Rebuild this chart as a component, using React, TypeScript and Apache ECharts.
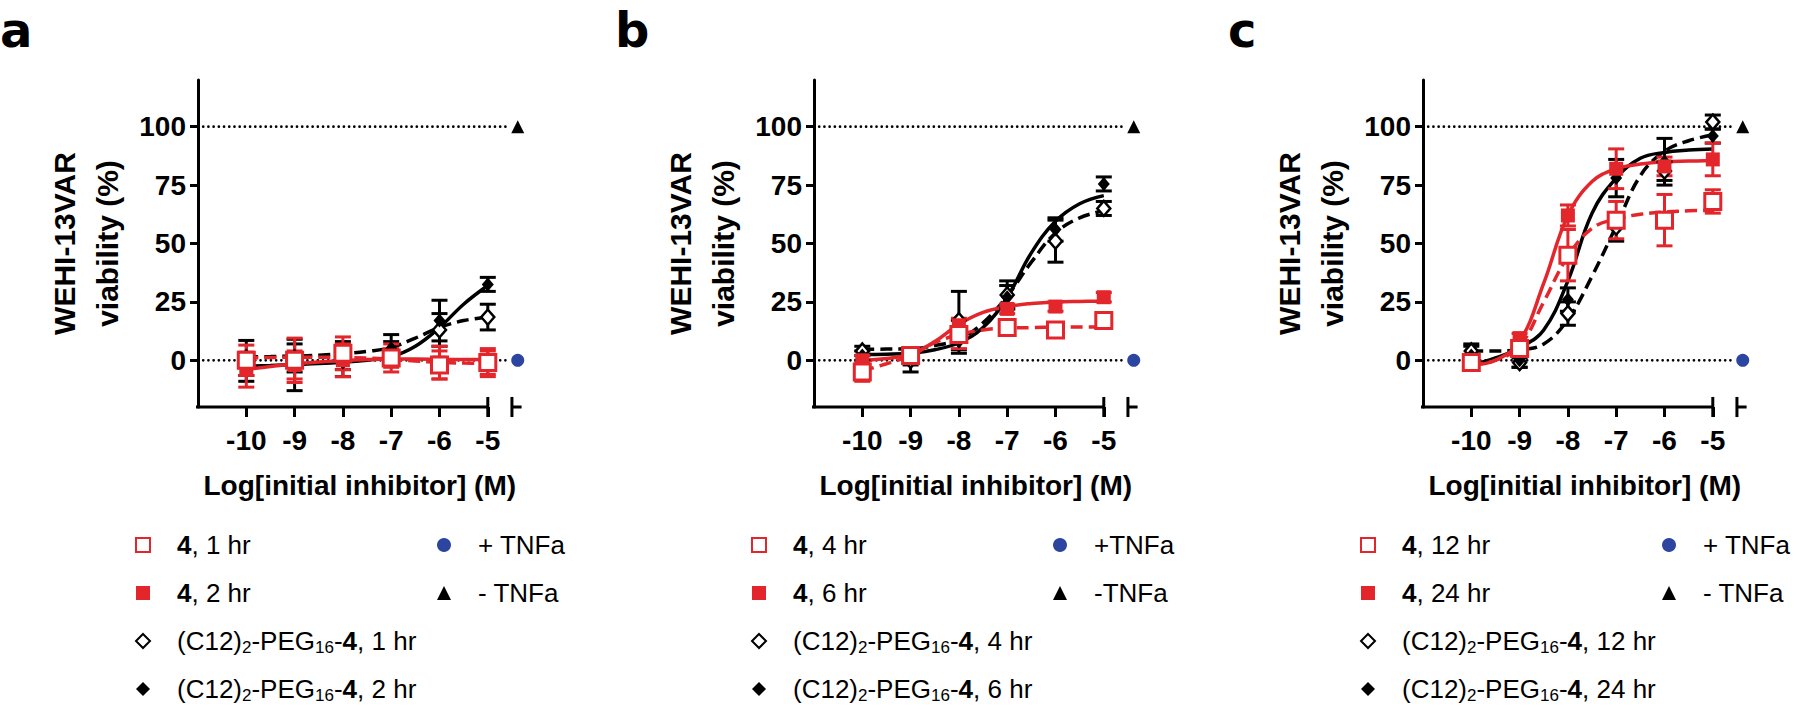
import React, { useEffect, useRef } from "react";
import * as echarts from "echarts";

// ---------- data ----------
const X_POINTS = [-10, -9, -8, -7, -6, -5];
const CURVE_X = [-10, -9.5, -9, -8.5, -8, -7.5, -7, -6.5, -6, -5.5, -5];
const X_TICKS = [-10, -9, -8, -7, -6, -5];
const Y_TICKS = [0, 25, 50, 75, 100];
const PANEL_LETTERS = ["a", "b", "c"];
const X_TITLE = "Log[initial inhibitor] (M)";
const Y_TITLE = "WEHI-13VAR\nviability (%)";

// series names (legend labels): [open square, filled square, open diamond, filled diamond]
const A_NAMES = ["4, 1 hr", "4, 2 hr", "(C12)2-PEG16-4, 1 hr", "(C12)2-PEG16-4, 2 hr"];
const B_NAMES = ["4, 4 hr", "4, 6 hr", "(C12)2-PEG16-4, 4 hr", "(C12)2-PEG16-4, 6 hr"];
const C_NAMES = ["4, 12 hr", "4, 24 hr", "(C12)2-PEG16-4, 12 hr", "(C12)2-PEG16-4, 24 hr"];
const A_CONTROLS = ["+ TNFa", "- TNFa"];
const B_CONTROLS = ["+TNFa", "-TNFa"];
const C_CONTROLS = ["+ TNFa", "- TNFa"];
const CONTROL_VALUES = [0, 100];
const REFERENCE_LINES = [0, 100];

// panel a
const A_OPEN_SQ = [0, 0, 3, 1, -2, -1];
const A_OPEN_SQ_ERR = [6.5, 9.5, 7, 6, 6, 6];
const A_FILL_SQ = [-4, -2, 0, 1, -1, -1];
const A_FILL_SQ_ERR = [7.5, 6, 7, 4, 7, 5];
const A_OPEN_DIA = [1, 1, 2, 4, 13, 18.5];
const A_OPEN_DIA_ERR = [7.5, 6, 6, 4, 7, 5.5];
const A_FILL_DIA = [-3, -2, -1, 5, 17, 32.5];
const A_FILL_DIA_ERR = [6, 11, 6, 6, 8.7, 3];
const A_CURVE_OPEN_SQ = [1, 1.2, 1.3, 1.3, 1.2, 1, 0.5, -0.3, -0.9, -1.2, -1.3];
const A_CURVE_FILL_SQ = [-3.9, -2.7, -1.5, -0.7, -0.1, 0.3, 0.5, 0.5, 0.4, 0.3, 0.3];
const A_CURVE_OPEN_DIA = [1.5, 1.6, 1.8, 2.2, 2.8, 3.8, 5.5, 9.5, 14, 17, 18.5];
const A_CURVE_FILL_DIA = [-2.5, -2.2, -1.8, -1.4, -0.8, 0, 1.5, 6, 14, 24, 32];

// panel b
const B_OPEN_SQ = [-5, 2, 11, 14, 13, 17];
const B_OPEN_SQ_ERR = [4, 2, 6, 2, 2, 2];
const B_FILL_SQ = [0, 2, 15, 22, 23, 27];
const B_FILL_SQ_ERR = [2, 2, 3, 2, 2, 2];
const B_OPEN_DIA = [4, 0, 17, 28, 51, 65];
const B_OPEN_DIA_ERR = [2, 5, 12.5, 6, 9, 3];
const B_FILL_DIA = [2, 1, 8, 27, 56, 75.5];
const B_FILL_DIA_ERR = [2, 3, 5, 5, 5, 3];
const B_CURVE_OPEN_SQ = [-4.6, -1.5, 2, 7.5, 11, 13, 13.8, 14, 14.2, 14.3, 14.3];
const B_CURVE_FILL_SQ = [0, 0.8, 2.6, 8, 15.4, 20.5, 23, 24.3, 25, 25.2, 25.3];
const B_CURVE_OPEN_DIA = [4.7, 4.8, 4.9, 6.3, 9, 16, 27.5, 42, 54.5, 61, 64];
const B_CURVE_FILL_DIA = [2.5, 2.6, 3, 4.5, 7.5, 14, 27, 46, 59.5, 67, 70.5];

// panel c
const C_OPEN_SQ = [-1, 5, 45, 60, 60, 68];
const C_OPEN_SQ_ERR = [2, 2, 11, 8, 11, 5];
const C_FILL_SQ = [-1, 9.5, 62, 82, 83, 86];
const C_FILL_SQ_ERR = [2, 2, 4.5, 8.5, 4, 7];
const C_OPEN_DIA = [4, -1, 20, 57, 81, 102];
const C_OPEN_DIA_ERR = [3, 2, 5, 6, 4, 3];
const C_FILL_DIA = [2, 0, 26, 78, 85, 96];
const C_FILL_DIA_ERR = [4, 3, 5, 8, 10, 3];
const C_CURVE_OPEN_SQ = [-2, 0, 6, 25, 44.5, 56.5, 60.5, 62.5, 63.5, 64, 64.2];
const C_CURVE_FILL_SQ = [-2, 0, 8, 33, 62, 76.5, 82, 84, 85, 85.3, 85.5];
const C_CURVE_OPEN_DIA = [4, 4, 4.5, 7, 17.5, 36, 57.5, 79, 89.5, 94, 96.5];
const C_CURVE_FILL_DIA = [-2, 1, 5.4, 13, 34, 63, 78, 86.5, 89, 90, 90.5];

// ---------- layout / style ----------
const RED = "#E3262B";
const BLUE = "#2C45A0";
const BLACK = "#000000";
const FONT = "'Liberation Sans', Arial, sans-serif";
const LETTER_FONT = "'DejaVu Sans', sans-serif";
const PANEL_LEFT = [198, 814, 1423];
const LETTER_X = [0, 615, 1228];
const GRID_TOP = 80;
const GRID_H = 327;
const GRID_W = 323.6;
const X_MIN = -11;
const X_MAX = -4.3;
const Y_MIN = -20;
const Y_MAX = 120;
const CONTROL_X = -4.38;
const BREAK_X = -4.5;
const REF_END_X = -4.56;
const AXIS_START_X = -11.15;
const CROSS_TICK = 4.3;

const PANELS = [
  {
    names: A_NAMES, controls: A_CONTROLS,
    pts: [A_OPEN_SQ, A_FILL_SQ, A_OPEN_DIA, A_FILL_DIA],
    errs: [A_OPEN_SQ_ERR, A_FILL_SQ_ERR, A_OPEN_DIA_ERR, A_FILL_DIA_ERR],
    curves: [A_CURVE_OPEN_SQ, A_CURVE_FILL_SQ, A_CURVE_OPEN_DIA, A_CURVE_FILL_DIA],
  },
  {
    names: B_NAMES, controls: B_CONTROLS,
    pts: [B_OPEN_SQ, B_FILL_SQ, B_OPEN_DIA, B_FILL_DIA],
    errs: [B_OPEN_SQ_ERR, B_FILL_SQ_ERR, B_OPEN_DIA_ERR, B_FILL_DIA_ERR],
    curves: [B_CURVE_OPEN_SQ, B_CURVE_FILL_SQ, B_CURVE_OPEN_DIA, B_CURVE_FILL_DIA],
  },
  {
    names: C_NAMES, controls: C_CONTROLS,
    pts: [C_OPEN_SQ, C_FILL_SQ, C_OPEN_DIA, C_FILL_DIA],
    errs: [C_OPEN_SQ_ERR, C_FILL_SQ_ERR, C_OPEN_DIA_ERR, C_FILL_DIA_ERR],
    curves: [C_CURVE_OPEN_SQ, C_CURVE_FILL_SQ, C_CURVE_OPEN_DIA, C_CURVE_FILL_DIA],
  },
];

// per data set: [open sq, filled sq, open diamond, filled diamond]
const SET_COLOR = [RED, RED, BLACK, BLACK];
const SET_DASHED = [true, false, true, false];
const SET_SYMBOL = ["rect", "rect", "diamond", "diamond"];
const SET_SIZE: any[] = [16, 14, [13, 15], [12, 14]];
const SET_ITEMSTYLE = [
  { color: "#ffffff", borderColor: RED, borderWidth: 3, opacity: 1 },
  { color: RED, borderColor: RED, borderWidth: 0, opacity: 1 },
  { color: "#ffffff", borderColor: BLACK, borderWidth: 2.5, opacity: 1 },
  { color: BLACK, borderColor: BLACK, borderWidth: 0, opacity: 1 },
];
const DRAW_ORDER_CURVES = [2, 3, 0, 1];
const DRAW_ORDER_MARKS = [2, 3, 1, 0];

function richName(name: string): string {
  return (
    "{g| }" +
    name
      .replace("(C12)2-PEG16-4", "(C12){s|2}-PEG{s|16}-{b|4}")
      .replace(/^4,/, "{b|4},")
  );
}

function buildOption() {
  const grid: any[] = [];
  const xAxis: any[] = [];
  const yAxis: any[] = [];
  const series: any[] = [];
  const legend: any[] = [];
  const graphic: any[] = [];

  const legendText = {
    color: BLACK,
    fontSize: 26,
    fontFamily: FONT,
    lineHeight: 30,
    rich: {
      g: { width: 22, fontSize: 26, lineHeight: 30 },
      b: { fontWeight: "bold", fontSize: 26, fontFamily: FONT, color: BLACK, lineHeight: 30 },
      s: { fontSize: 17, fontFamily: FONT, color: BLACK, verticalAlign: "bottom", lineHeight: 8 },
    },
  };

  PANELS.forEach((p, i) => {
    const L = PANEL_LEFT[i];
    grid.push({ left: L, top: GRID_TOP, width: GRID_W, height: GRID_H, outerBoundsMode: "none", containLabel: false });
    xAxis.push({
      type: "value", gridIndex: i, min: X_MIN, max: X_MAX,
      axisLine: { show: false, onZero: false },
      axisTick: { show: true, customValues: X_TICKS, length: 10, lineStyle: { width: 3, color: BLACK } },
      axisLabel: { show: true, customValues: X_TICKS, margin: 19, fontSize: 28, fontWeight: "bold", color: BLACK, fontFamily: FONT },
      splitLine: { show: false },
      name: X_TITLE, nameLocation: "middle", nameGap: 64,
      nameTextStyle: { fontSize: 28, fontWeight: "bold", color: BLACK, fontFamily: FONT },
    });
    yAxis.push({
      type: "value", gridIndex: i, min: Y_MIN, max: Y_MAX,
      axisLine: { show: true, onZero: false, lineStyle: { width: 3, color: BLACK } },
      axisTick: { show: true, customValues: Y_TICKS, length: 8, lineStyle: { width: 3, color: BLACK } },
      axisLabel: { show: true, customValues: Y_TICKS, margin: 12, fontSize: 28, fontWeight: "bold", color: BLACK, fontFamily: FONT },
      splitLine: { show: false },
    });

    const common = { xAxisIndex: i, yAxisIndex: i, silent: true, animation: false };

    // dotted reference lines
    REFERENCE_LINES.forEach((v) => {
      series.push({
        ...common, type: "line", symbol: "none", clip: false,
        data: [[X_MIN, v], [REF_END_X, v]],
        lineStyle: { color: BLACK, width: 2.7, type: [0.01, 5.2], cap: "round" },
        z: 1,
      });
    });
    // broken x axis
    const axisStyle = { color: BLACK, width: 3, type: "solid", cap: "butt" };
    const lastTick = X_TICKS[X_TICKS.length - 1];
    [
      [[AXIS_START_X, Y_MIN], [lastTick, Y_MIN]],
      [[lastTick, Y_MIN + CROSS_TICK], [lastTick, Y_MIN - CROSS_TICK]],
      [[BREAK_X, Y_MIN], [X_MAX, Y_MIN]],
      [[BREAK_X, Y_MIN + CROSS_TICK], [BREAK_X, Y_MIN - CROSS_TICK]],
    ].forEach((seg) => {
      series.push({ ...common, type: "line", symbol: "none", clip: false, data: seg, lineStyle: axisStyle, z: 4 });
    });

    // fitted curves
    DRAW_ORDER_CURVES.forEach((k) => {
      series.push({
        ...common, type: "line", symbol: "none", showSymbol: false, smooth: 0.4, clip: false,
        data: CURVE_X.map((x, j) => [x, p.curves[k][j]]),
        lineStyle: { color: SET_COLOR[k], width: 3.5, type: SET_DASHED[k] ? [12, 6] : "solid" },
        z: 2,
      });
    });
    // error bars
    DRAW_ORDER_MARKS.forEach((k) => {
      const color = SET_COLOR[k];
      series.push({
        ...common, type: "custom", clip: false, z: 3,
        data: X_POINTS.map((x, j) => [x, p.pts[k][j], p.errs[k][j]]),
        encode: { x: 0, y: 1 },
        renderItem: (params: any, api: any) => {
          const x = api.value(0);
          const y = api.value(1);
          const e = api.value(2);
          const top = api.coord([x, y + e]);
          const bot = api.coord([x, y - e]);
          const hw = 8;
          const st = { stroke: color, lineWidth: 3, fill: "none" };
          return {
            type: "group",
            children: [
              { type: "line", shape: { x1: top[0], y1: top[1], x2: bot[0], y2: bot[1] }, style: st },
              { type: "line", shape: { x1: top[0] - hw, y1: top[1], x2: top[0] + hw, y2: top[1] }, style: st },
              { type: "line", shape: { x1: bot[0] - hw, y1: bot[1], x2: bot[0] + hw, y2: bot[1] }, style: st },
            ],
          };
        },
      });
    });
    // markers
    DRAW_ORDER_MARKS.forEach((k) => {
      series.push({
        ...common, type: "scatter", name: p.names[k], clip: false, z: 3, symbolKeepAspect: true,
        data: X_POINTS.map((x, j) => [x, p.pts[k][j]]),
        symbol: SET_SYMBOL[k], symbolSize: SET_SIZE[k], itemStyle: SET_ITEMSTYLE[k],
      });
    });
    // controls
    series.push({
      ...common, type: "scatter", name: p.controls[0], clip: false, z: 3,
      data: [[CONTROL_X, CONTROL_VALUES[0]]], symbol: "circle", symbolSize: 13, itemStyle: { color: BLUE, opacity: 1 },
    });
    series.push({
      ...common, type: "scatter", name: p.controls[1], clip: false, z: 3,
      data: [[CONTROL_X, CONTROL_VALUES[1]]], symbol: "triangle", symbolSize: 13, itemStyle: { color: BLACK, opacity: 1 },
    });

    // legends
    legend.push({
      orient: "vertical", left: L - 63, top: 530, itemWidth: 14, itemHeight: 14, itemGap: 18,
      symbolKeepAspect: true, selectedMode: false, data: p.names,
      formatter: (n: string) => richName(n), textStyle: legendText, padding: 0,
    });
    legend.push({
      orient: "vertical", left: L + 239, top: 530, itemWidth: 14, itemHeight: 14, itemGap: 18,
      symbolKeepAspect: true, selectedMode: false, data: p.controls,
      formatter: (n: string) => "{g| }" + n, textStyle: legendText, padding: 0,
    });

    // panel letter and y title
    graphic.push({
      type: "text", x: LETTER_X[i], y: 30, silent: true,
      style: { text: PANEL_LETTERS[i], fontSize: 48, fontWeight: "bold", fontFamily: LETTER_FONT, fill: BLACK, verticalAlign: "middle", align: "left" },
    });
    graphic.push({
      type: "text", x: L - 112, y: GRID_TOP + GRID_H / 2, rotation: Math.PI / 2, silent: true,
      style: { text: Y_TITLE, fontSize: 30, fontWeight: "bold", fontFamily: FONT, fill: BLACK, align: "center", verticalAlign: "middle", lineHeight: 43 },
    });
  });

  return { animation: false, backgroundColor: "#ffffff", grid, xAxis, yAxis, series, legend, graphic };
}

export default function App() {
  const ref = useRef<HTMLDivElement | null>(null);
  useEffect(() => {
    if (!ref.current) return;
    const chart = echarts.init(ref.current, null, { renderer: "svg" });
    chart.setOption(buildOption() as any);
    return () => chart.dispose();
  }, []);
  return (
    <div
      ref={ref}
      style={{ position: "absolute", left: 0, top: 0, width: 1800, height: 710, background: "#fff" }}
    />
  );
}
